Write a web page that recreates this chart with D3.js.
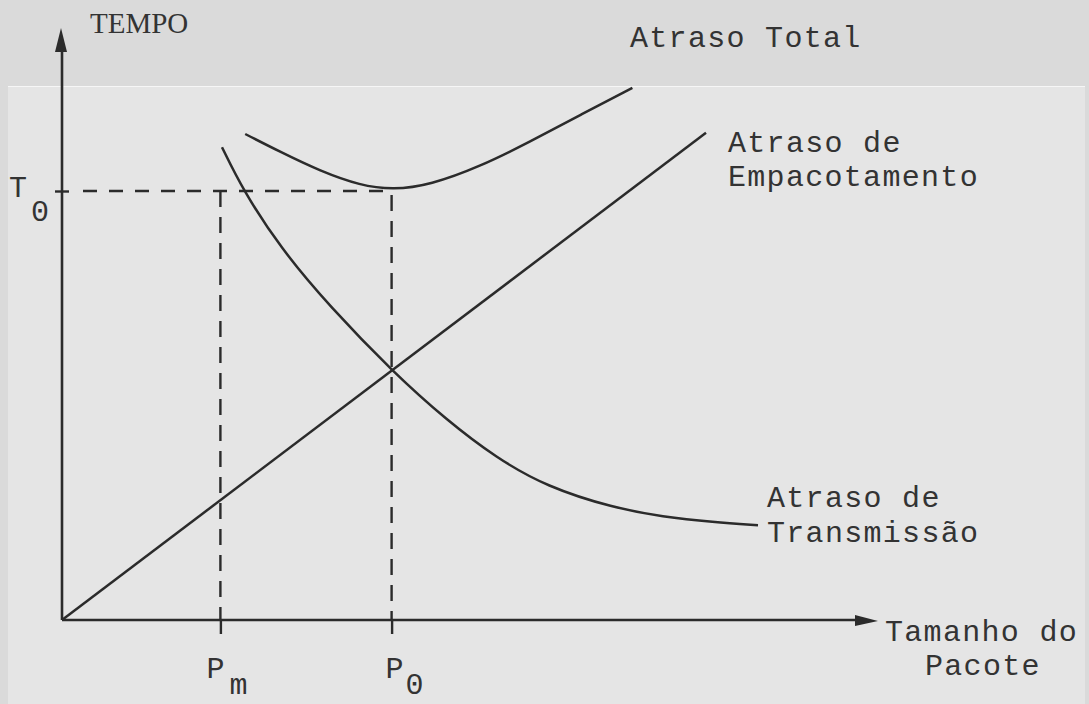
<!DOCTYPE html>
<html>
<head>
<meta charset="utf-8">
<script src="https://cdn.jsdelivr.net/npm/d3@7"></script>
<style>
  html, body { margin: 0; padding: 0; background: #dadada; }
  svg { display: block; }
  .lbl { font-family: "Liberation Mono", "Courier New", monospace; font-size: 30px; letter-spacing: 1.3px; fill: #333; }
</style>
</head>
<body>
<div id="chart"></div>
<script>
// values (abstract units: size 0..10, time 0..10)
const pm = 1.98;          // P_m
const p0 = 4.12;          // P_0
const t0 = 7.15;          // T_0

const empacotamento = [[0, 0], [8.05, 8.12]];

const transmissao = [
    [2.00, 7.88], [2.26, 7.17], [2.73, 6.20], [3.35, 5.22], [4.14, 4.13],
    [4.81, 3.33], [5.43, 2.70], [6.06, 2.22], [6.89, 1.87], [7.51, 1.72],
    [8.14, 1.63], [8.70, 1.58]
];

const total = [
    [2.29, 8.10], [2.73, 7.80], [3.23, 7.48], [3.73, 7.24], [4.14, 7.17],
    [4.60, 7.25], [5.23, 7.56], [5.85, 7.97], [6.48, 8.42], [7.13, 8.87]
];

const width = 1089, height = 704;
const x = d3.scaleLinear().domain([0, 10]).range([62, 862]);
const y = d3.scaleLinear().domain([0, 10]).range([620, 20]);
const ink = '#2b2b2b';

const svg = d3.select('#chart')
    .append('svg')
    .attr('width', width)
    .attr('height', height);

// scanned page look: darker strip at the top, lighter sheet below
svg.append('rect').attr('width', width).attr('height', height).attr('fill', '#dadada');
svg.append('rect').attr('x', 8).attr('y', 86).attr('width', 1077).attr('height', height - 86).attr('fill', '#e5e5e5');
svg.append('line').attr('x1', 8).attr('x2', 1085).attr('y1', 86.5).attr('y2', 86.5)
    .attr('stroke', '#f6f6f6').attr('stroke-width', 1.2);

// dashed guides
const guides = svg.append('g').attr('stroke', ink).attr('stroke-width', 2.4).attr('fill', 'none');
guides.append('line')
    .attr('x1', 83).attr('x2', x(p0))
    .attr('y1', y(t0)).attr('y2', y(t0))
    .attr('stroke-dasharray', '14,12');
guides.append('line')
    .attr('x1', x(pm)).attr('x2', x(pm))
    .attr('y1', y(t0)).attr('y2', y(0))
    .attr('stroke-dasharray', '16,10');
guides.append('line')
    .attr('x1', x(p0)).attr('x2', x(p0))
    .attr('y1', y(t0) + 4).attr('y2', y(0))
    .attr('stroke-dasharray', '16,10');

// axes
const xAxis = svg.append('g')
    .attr('transform', `translate(0,${y(0)})`)
    .call(d3.axisBottom(x).tickValues([pm, p0]).tickFormat('').tickSize(14).tickSizeOuter(0));
xAxis.select('.domain').remove();
xAxis.selectAll('.tick line').attr('stroke', ink).attr('stroke-width', 2.4);

const yAxis = svg.append('g')
    .attr('transform', `translate(${x(0)},0)`)
    .call(d3.axisLeft(y).tickValues([t0]).tickFormat('').tickSize(7).tickSizeOuter(0));
yAxis.select('.domain').remove();
yAxis.selectAll('.tick line').attr('x2', -7).attr('x1', 7).attr('stroke', ink).attr('stroke-width', 2.4);

svg.append('line')
    .attr('x1', x(0)).attr('x2', 860)
    .attr('y1', y(0)).attr('y2', y(0))
    .attr('stroke', ink).attr('stroke-width', 2.6);
svg.append('path')
    .attr('d', `M878,${y(0) + 1}L855,${y(0) - 5}L855,${y(0) + 6}Z`)
    .attr('fill', ink);

svg.append('line')
    .attr('x1', x(0)).attr('x2', x(0))
    .attr('y1', y(0)).attr('y2', 46)
    .attr('stroke', ink).attr('stroke-width', 2.6);
svg.append('path')
    .attr('d', `M${x(0) - 1},28L${x(0) - 7},52L${x(0) + 5},52Z`)
    .attr('fill', ink);

// curves
const line = d3.line().x(d => x(d[0])).y(d => y(d[1])).curve(d3.curveBasis);
svg.append('g')
    .attr('fill', 'none')
    .attr('stroke', ink)
    .attr('stroke-width', 2.5)
    .selectAll('path')
    .data([empacotamento, transmissao, total])
    .join('path')
    .attr('d', line);

// texts
svg.append('text').attr('x', 90).attr('y', 33)
    .attr('font-family', '"Liberation Serif", serif').attr('font-size', 29)
    .attr('fill', '#333').text('TEMPO');

const labels = svg.append('g').attr('class', 'lbl');
labels.append('text').attr('x', 630).attr('y', 47).text('Atraso Total');
labels.append('text').attr('x', 728).attr('y', 152).text('Atraso de');
labels.append('text').attr('x', 728).attr('y', 186).text('Empacotamento');
labels.append('text').attr('x', 767).attr('y', 507).text('Atraso de');
labels.append('text').attr('x', 767).attr('y', 542).text('Transmissão');
labels.append('text').attr('x', 885).attr('y', 641).text('Tamanho do');
labels.append('text').attr('x', 925).attr('y', 675).text('Pacote');

labels.append('text').attr('x', 9).attr('y', 197).text('T');
labels.append('text').attr('x', 31).attr('y', 221).text('0');
labels.append('text').attr('x', x(pm) - 14).attr('y', 678).text('P');
labels.append('text').attr('x', x(pm) + 9).attr('y', 694).text('m');
labels.append('text').attr('x', x(p0) - 6).attr('y', 678).text('P');
labels.append('text').attr('x', x(p0) + 14).attr('y', 694).text('0');
</script>
</body>
</html>
